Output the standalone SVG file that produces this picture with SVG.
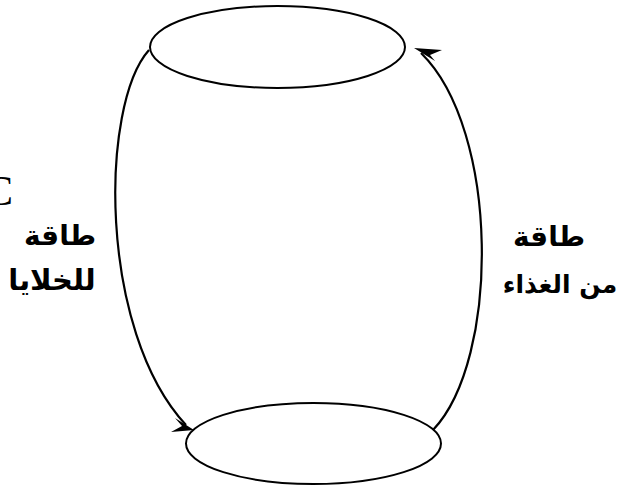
<svg xmlns="http://www.w3.org/2000/svg" width="633" height="489" viewBox="0 0 633 489">
<style>
.node{fill:none;stroke:#000;stroke-width:2}
.conn{fill:none;stroke:#000;stroke-width:2.2}
.head{fill:#000;stroke:none}
.lbl{font-family:"DejaVu Sans","Liberation Sans",sans-serif;font-weight:bold;font-size:28px;fill:#000}
</style>
<rect width="633" height="489" fill="#fff"/>
<g id="node-top"><ellipse class="node" cx="277.5" cy="47" rx="127.5" ry="41"/></g>
<g id="node-bottom"><ellipse class="node" cx="313.5" cy="443.5" rx="127.5" ry="40.5"/></g>
<g id="connectors">
<path class="conn" d="M149,50 C100,105 98,330 186,425"/>
<polygon class="head" points="194,430 171,432 182,426 175,418"/>
<path class="conn" d="M433,430 C500,360 500,130 421,53"/>
<polygon class="head" points="414,48 442,50 430,55 435,61"/>
</g>
<text x="-15" y="205" font-family="Liberation Serif,serif" font-size="42" fill="#000">C</text>
<g id="label-left">
<text class="lbl" x="60" y="245" text-anchor="middle" direction="rtl">طاقة</text>
<text class="lbl" x="52" y="290" text-anchor="middle" direction="rtl" style="font-size:29px">للخلايا</text>
</g>
<g id="label-right">
<text class="lbl" x="549" y="246" text-anchor="middle" direction="rtl">طاقة</text>
<text class="lbl" x="560" y="293" text-anchor="middle" direction="rtl" style="font-size:25px">من الغذاء</text>
</g>
</svg>
